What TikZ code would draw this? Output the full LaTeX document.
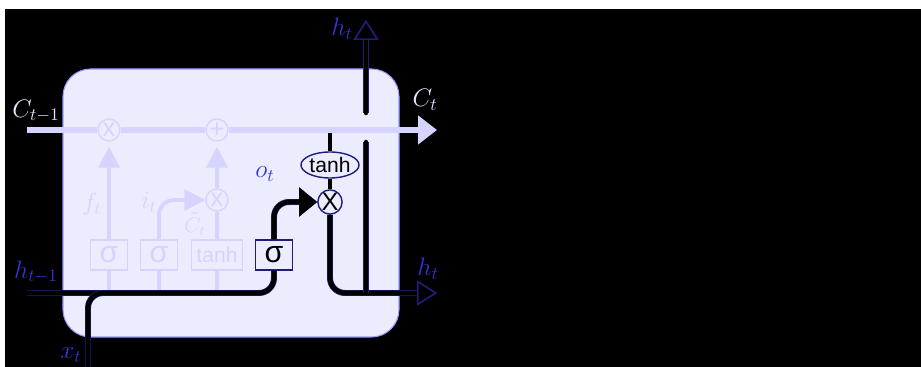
\documentclass[tikz,border=0pt]{standalone}
\usepackage{fontspec}
\newfontfamily\gatefont{Liberation Sans}
\usetikzlibrary{arrows.meta,shapes.geometric}
\definecolor{cellbox}{RGB}{236,236,255}
\definecolor{cellrim}{RGB}{150,150,255}
\definecolor{faded}{RGB}{212,212,255}
\definecolor{cellline}{RGB}{212,212,255}
\definecolor{lblue}{RGB}{52,52,214}
\definecolor{wirerim}{RGB}{30,30,120}
\definecolor{clabel}{RGB}{228,228,255}
\tikzset{
    gate/.style={draw=wirerim,fill=cellbox,line width=0.8pt,minimum width=0.74cm,minimum height=0.6cm,inner sep=1pt,font=\gatefont\LARGE},
    fadedgate/.style={gate,draw=faded,text=faded},
    op/.style={circle,draw=wirerim,fill=cellbox,line width=0.8pt,inner sep=0pt,minimum size=0.44cm,font=\gatefont\Large},
    fadedop/.style={op,draw=faded,text=faded},
    wire/.style={line width=2.6pt,rounded corners=0.3cm,preaction={draw=wirerim,line width=3.4pt}},
    thinwire/.style={line width=1.8pt},
    outwire/.style={wire,-{Triangle[open,length=0.4cm,width=0.5cm,line width=0.8pt,color=wirerim]}},
    fadedwire/.style={draw=faded,line width=2.2pt,rounded corners=0.3cm},
    fadedtip/.style={-{Triangle[length=0.42cm,width=0.42cm]}},
    lbl/.style={text=lblue,font=\Large},
}
\begin{document}
\begin{tikzpicture}
    \useasboundingbox (0,0) rectangle (18.42,7.34);
    \fill[white] (0,0) rectangle (18.42,7.34);
    \fill[black] (0.1,0) rectangle (18.42,7.16);
    \draw[cellrim,fill=cellbox,line width=0.6pt,rounded corners=0.55cm] (1.26,0.6) rectangle (7.98,5.96);

    \coordinate (cin) at (0.54,4.74);
    \coordinate (cout) at (8.74,4.74);
    \coordinate (ctap) at (6.6,4.74);
    \coordinate (hin) at (0.54,1.48);
    \coordinate (hout) at (8.74,1.48);
    \coordinate (hsplit) at (7.32,1.48);
    \coordinate (hunder) at (7.32,4.5);
    \coordinate (hover) at (7.32,5.08);
    \coordinate (htop) at (7.32,6.94);
    \coordinate (xin) at (1.76,0);
    \coordinate (xjoin) at (2.6,1.48);

    % forget and input gates
    \node[fadedgate] (fgate) at (2.18,2.24) {σ};
    \node[fadedgate] (igate) at (3.18,2.24) {σ};
    \node[fadedgate,minimum width=1.02cm,font=\gatefont\large] (cgate) at (4.34,2.24) {tanh};
    \node[fadedop] (fmul) at (2.18,4.74) {x};
    \node[fadedop] (cadd) at (4.34,4.74) {+};
    \node[fadedop] (imul) at (4.34,3.34) {x};
    \draw[fadedwire] (fgate) -- (fgate |- hin);
    \draw[fadedwire] (igate) -- (igate |- hin);
    \draw[fadedwire] (cgate) -- (cgate |- hin);
    \draw[fadedwire,fadedtip,shorten >=0.1cm] (fgate) -- (fmul);
    \draw[fadedwire,fadedtip] (igate) |- (imul);
    \draw[fadedwire] (cgate) -- (imul);
    \draw[fadedwire,fadedtip,shorten >=0.1cm] (imul) -- (cadd);
    \node[text=faded,font=\Large] (flabel) at (1.84,3.26) {$f_t$};
    \node[text=faded,font=\Large] (ilabel) at (2.98,3.3) {$i_t$};
    \node[text=faded,font=\large,inner sep=0pt] (clabel) at (3.9,2.86) {$\tilde{C}_t$};

    % output gate
    \node[gate] (ogate) at (5.48,2.24) {σ};
    \node[op] (omul) at (6.6,3.3) {X};
    \node[op,ellipse,minimum width=1.04cm,minimum height=0.52cm,font=\gatefont\large] (otanh) at (6.6,4.04) {tanh};
    \draw[thinwire] (ctap) -- (otanh);
    \draw[thinwire] (otanh) -- (omul);
    \draw[wire,-{Triangle[length=0.36cm,width=0.56cm]}] (ogate) |- (omul);
    \node[lbl] (olabel) at (5.3,3.86) {$o_t$};

    % cell state
    \draw[cellline,line width=3.4pt,-{Triangle[length=0.38cm,width=0.56cm]}] (cin) -- (fmul) -- (cadd) -- (cout);

    % hidden state and input
    \draw[wire] (hin) -| (ogate);
    \draw[wire] (xin) |- (xjoin);
    \draw[outwire] (omul) |- (hout);
    \draw[wire,line cap=round] (hsplit) -- (hunder);
    \draw[outwire,line cap=round] (hover) -- (htop);

    \node[text=clabel,font=\Large] (cprev) at (0.72,5.12) {$C_{t-1}$};
    \node[text=clabel,font=\Large] (cnext) at (8.5,5.34) {$C_t$};
    \node[lbl] (hprev) at (0.72,1.9) {$h_{t-1}$};
    \node[lbl] (hnext) at (8.56,1.96) {$h_t$};
    \node[lbl] (hup) at (6.84,6.76) {$h_t$};
    \node[lbl] (xlabel) at (1.42,0.24) {$x_t$};
\end{tikzpicture}
\end{document}
